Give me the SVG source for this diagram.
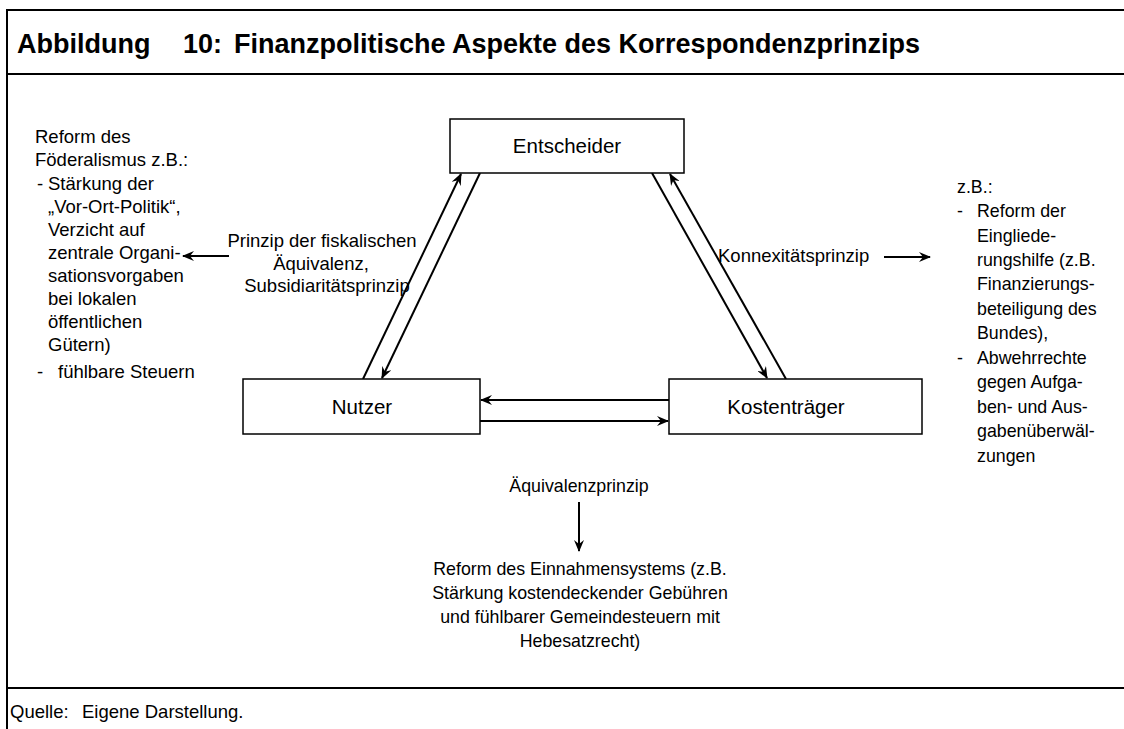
<svg xmlns="http://www.w3.org/2000/svg" width="1124" height="729" viewBox="0 0 1124 729">
<style>
text{font-family:"Liberation Sans",Arial,sans-serif;fill:#000}
.t{font-size:27px;font-weight:bold}
.b{font-size:18.5px}
.s{font-size:17.8px}
.n{font-size:20.5px}
.m{text-anchor:middle}
.frame{stroke:#000;stroke-width:2;fill:none}
.box{fill:#fff;stroke:#000;stroke-width:1.5}
.c{stroke:#000;stroke-width:2;fill:none;marker-end:url(#ah)}
</style>
<defs>
<marker id="ah" viewBox="0 0 12 10" refX="11" refY="5" markerWidth="12" markerHeight="10" markerUnits="userSpaceOnUse" orient="auto">
<path d="M0,0 L12,5 L0,10 L4,5 Z" fill="#000"/>
</marker>
</defs>
<rect width="1124" height="729" fill="#fff"/>
<g id="frame">
<line class="frame" x1="7" y1="10" x2="1124" y2="10"/>
<line class="frame" x1="7" y1="74" x2="1124" y2="74"/>
<line class="frame" x1="7" y1="688" x2="1124" y2="688"/>
<line class="frame" x1="7" y1="9" x2="7" y2="729"/>
</g>
<g id="title">
<text class="t" x="17" y="53">Abbildung</text>
<text class="t" x="183" y="53">10:</text>
<text class="t" x="234" y="53">Finanzpolitische Aspekte des Korrespondenzprinzips</text>
</g>
<g id="connectors">
<line class="c" x1="363" y1="379" x2="461" y2="174"/>
<line class="c" x1="480" y1="173" x2="382" y2="378"/>
<line class="c" x1="652" y1="173" x2="767" y2="378"/>
<line class="c" x1="786" y1="379" x2="670" y2="174"/>
<line class="c" x1="669" y1="400" x2="481" y2="400"/>
<line class="c" x1="480" y1="421" x2="668" y2="421"/>
<line class="c" x1="229" y1="256" x2="183" y2="256"/>
<line class="c" x1="884" y1="257" x2="930" y2="257"/>
<line class="c" x1="579" y1="502" x2="579" y2="551"/>
</g>
<g id="entscheider">
<rect class="box" x="450" y="119" width="234" height="54"/>
<text class="n m" x="567" y="153">Entscheider</text>
</g>
<g id="nutzer">
<rect class="box" x="243" y="379" width="237" height="55"/>
<text class="n m" x="362" y="414">Nutzer</text>
</g>
<g id="kostentraeger">
<rect class="box" x="669" y="379" width="253" height="55"/>
<text class="n m" x="786" y="414">Kostenträger</text>
</g>
<g id="label-fiskal">
<text class="b m" x="322" y="247">Prinzip der fiskalischen</text>
<text class="b m" x="321" y="270">Äquivalenz,</text>
<text class="b m" x="327" y="292">Subsidiaritätsprinzip</text>
</g>
<g id="label-konnex">
<text class="b" x="718" y="262">Konnexitätsprinzip</text>
</g>
<g id="label-aequiv">
<text class="s m" x="579" y="492">Äquivalenzprinzip</text>
</g>
<g id="left-text">
<text class="b" x="35" y="143">Reform des</text>
<text class="b" x="35" y="166">Föderalismus z.B.:</text>
<text class="b" x="37" y="190">-</text>
<text class="b" x="48" y="190">Stärkung der</text>
<text class="b" x="48" y="213">„Vor-Ort-Politik“,</text>
<text class="b" x="48" y="236">Verzicht auf</text>
<text class="b" x="48" y="259">zentrale Organi-</text>
<text class="b" x="48" y="282">sationsvorgaben</text>
<text class="b" x="48" y="305">bei lokalen</text>
<text class="b" x="48" y="328">öffentlichen</text>
<text class="b" x="48" y="351">Gütern)</text>
<text class="b" x="37" y="378">-</text>
<text class="b" x="58" y="378">fühlbare Steuern</text>
</g>
<g id="right-text">
<text class="s" x="957" y="193">z.B.:</text>
<text class="s" x="957" y="217">-</text>
<text class="s" x="977" y="217">Reform der</text>
<text class="s" x="977" y="242">Eingliede-</text>
<text class="s" x="977" y="266">rungshilfe (z.B.</text>
<text class="s" x="977" y="290">Finanzierungs-</text>
<text class="s" x="977" y="315">beteiligung des</text>
<text class="s" x="977" y="339">Bundes),</text>
<text class="s" x="957" y="364">-</text>
<text class="s" x="977" y="364">Abwehrrechte</text>
<text class="s" x="977" y="388">gegen Aufga-</text>
<text class="s" x="977" y="413">ben- und Aus-</text>
<text class="s" x="977" y="437">gabenüberwäl-</text>
<text class="s" x="977" y="462">zungen</text>
</g>
<g id="bottom-text">
<text class="s m" x="580" y="575">Reform des Einnahmensystems (z.B.</text>
<text class="s m" x="580" y="599">Stärkung kostendeckender Gebühren</text>
<text class="s m" x="580" y="623">und fühlbarer Gemeindesteuern mit</text>
<text class="s m" x="580" y="647">Hebesatzrecht)</text>
</g>
<g id="source">
<text class="b" x="10" y="718">Quelle:</text>
<text class="b" x="82" y="718">Eigene Darstellung.</text>
</g>
</svg>
